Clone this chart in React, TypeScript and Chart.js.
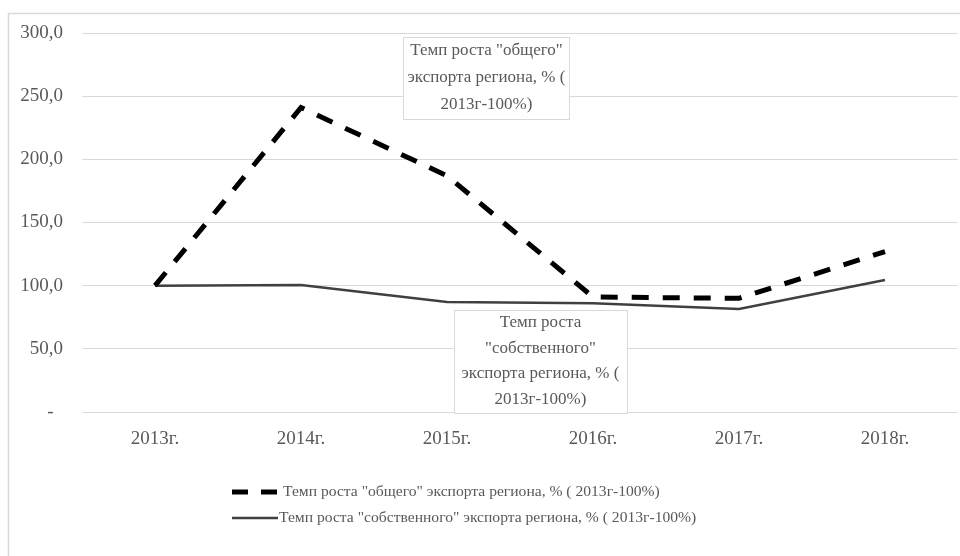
import React, { useEffect, useRef } from "react";
import { Chart, registerables } from "chart.js";

Chart.register(...registerables);

const categories = ["2013г.", "2014г.", "2015г.", "2016г.", "2017г.", "2018г."];
const totalExport = [100, 241, 187, 91, 90, 127];
const ownExport = [100, 100.5, 87, 86, 81.5, 104.5];
const yTicks = [0, 50, 100, 150, 200, 250, 300];
const seriesTotal = 'Темп роста "общего" экспорта региона, % ( 2013г-100%)';
const seriesOwn = 'Темп роста "собственного" экспорта региона, % ( 2013г-100%)';
const noteTotal = ['Темп роста "общего"', "экспорта региона, % (", "2013г-100%)"];
const noteOwn = ["Темп роста", '"собственного"', "экспорта региона, % (", "2013г-100%)"];

const FONT = "'Liberation Serif', 'Times New Roman', serif";
const TEXT = "#595959";
const GRID = "#d9d9d9";

const decor = {
  id: "decor",
  afterDraw(chart: any) {
    const ctx = chart.ctx;
    const xs = chart.scales.x;
    const ys = chart.scales.y;
    ctx.save();
    // outer frame
    ctx.strokeStyle = GRID;
    ctx.lineWidth = 1.5;
    ctx.beginPath();
    ctx.moveTo(8.5, 600);
    ctx.lineTo(8.5, 13.5);
    ctx.lineTo(970, 13.5);
    ctx.stroke();

    const box = (lines: string[], cx: number, top: number, bottom: number, w: number, lh: number) => {
      const x0 = Math.round(cx - w / 2) + 0.5;
      const y0 = Math.round(top) + 0.5;
      const h = Math.round(bottom - top);
      ctx.fillStyle = "#ffffff";
      ctx.fillRect(x0, y0, w, h);
      ctx.strokeStyle = GRID;
      ctx.lineWidth = 1;
      ctx.strokeRect(x0, y0, w, h);
      ctx.fillStyle = TEXT;
      ctx.font = "17px " + FONT;
      ctx.textAlign = "center";
      ctx.textBaseline = "middle";
      const startY = (top + bottom) / 2 - ((lines.length - 1) * lh) / 2;
      lines.forEach((l, i) => ctx.fillText(l, cx, startY + i * lh));
    };
    box(noteTotal, xs.getPixelForValue(2.27), ys.getPixelForValue(297), ys.getPixelForValue(232), 166, 27);
    box(noteOwn, xs.getPixelForValue(2.64), ys.getPixelForValue(81), ys.getPixelForValue(-0.5), 173, 25.5);

    // legend
    ctx.font = "15.6px " + FONT;
    ctx.textAlign = "left";
    ctx.textBaseline = "middle";
    ctx.lineCap = "butt";
    ctx.strokeStyle = "#000000";
    ctx.lineWidth = 5;
    ctx.setLineDash([16, 13]);
    ctx.beginPath();
    ctx.moveTo(232, 492);
    ctx.lineTo(277, 492);
    ctx.stroke();
    ctx.setLineDash([]);
    ctx.fillStyle = TEXT;
    ctx.fillText(seriesTotal, 283, 492);
    ctx.strokeStyle = "#404040";
    ctx.lineWidth = 2.5;
    ctx.beginPath();
    ctx.moveTo(232, 518);
    ctx.lineTo(278, 518);
    ctx.stroke();
    ctx.fillText(seriesOwn, 279, 518);
    ctx.restore();
  },
};

export default function App() {
  const ref = useRef<HTMLCanvasElement>(null);
  useEffect(() => {
    if (!ref.current) return;
    const chart = new Chart(ref.current, {
      type: "line",
      data: {
        labels: categories,
        datasets: [
          {
            label: seriesTotal,
            data: totalExport,
            borderColor: "#000000",
            borderWidth: 5,
            borderDash: [17, 14],
            pointRadius: 0,
            tension: 0,
            borderCapStyle: "butt",
          },
          {
            label: seriesOwn,
            data: ownExport,
            borderColor: "#404040",
            borderWidth: 2.5,
            pointRadius: 0,
            tension: 0,
          },
        ],
      },
      options: {
        animation: false,
        responsive: false,
        devicePixelRatio: 1,
        layout: { padding: { top: 33, left: 0, right: 2, bottom: 0 } },
        plugins: { legend: { display: false }, tooltip: { enabled: false }, title: { display: false } },
        scales: {
          x: {
            offset: true,
            grid: { display: false, drawTicks: false },
            border: { display: false },
            ticks: { color: TEXT, font: { family: FONT, size: 19 }, padding: 16, maxRotation: 0 },
            afterFit: (s: any) => { s.height = 144; },
          },
          y: {
            min: 0,
            max: 300,
            afterBuildTicks: (s: any) => { s.ticks = yTicks.map((v) => ({ value: v })); },
            grid: { color: GRID, lineWidth: 1, drawTicks: false },
            border: { display: false },
            ticks: {
              color: TEXT,
              font: { family: FONT, size: 19 },
              padding: 19,
              callback: (v: any) => (Number(v) === 0 ? "-  " : Number(v).toFixed(1).replace(".", ",")),
            },
            afterFit: (s: any) => { s.width = 82; },
          },
        },
      },
      plugins: [decor],
    });
    return () => chart.destroy();
  }, []);
  return (
    <div style={{ position: "absolute", left: 0, top: 0, width: 960, height: 556, background: "#fff" }}>
      <canvas ref={ref} width={960} height={556} />
    </div>
  );
}
